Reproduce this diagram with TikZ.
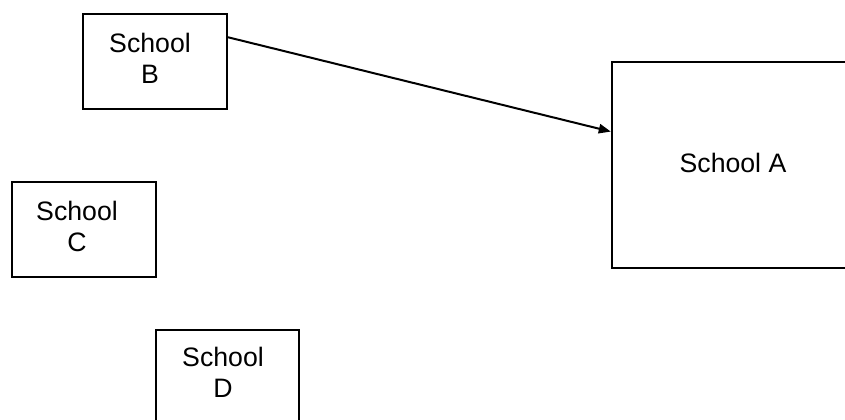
\documentclass[tikz,border=0pt]{standalone}
\usepackage{fontspec}
\setmainfont{Liberation Sans}
\usetikzlibrary{arrows.meta,calc}
\begin{document}
\begin{tikzpicture}[x=0.75pt,y=-0.75pt,
  box/.style={draw=black,line width=1.5pt,rectangle,inner sep=0pt},
  lbl/.style={align=center,font=\fontsize{20pt}{23.25pt}\selectfont,inner sep=0pt,anchor=base},
  conn/.style={line width=1.5pt,-{Triangle[length=9pt,width=7pt]}}]
\useasboundingbox (0,0) rectangle (845,419);
\clip (0,0) rectangle (845,419);
\node[box,minimum width=108pt,minimum height=71.25pt] (B) at (155,61.5) {};
\node[box,minimum width=107.5pt,minimum height=71.5pt] (C) at (84,229.4) {};
\node[box,minimum width=107.5pt,minimum height=86.25pt] (D) at (227.3,387.5) {};
\node[box,minimum width=193.7pt,minimum height=154.7pt] (A) at (740.9,164.9) {};
\node[lbl] (tB) at (150,83) {School\\B};
\node[lbl] (tC) at (77,251.7) {School\\C};
\node[lbl] (tD) at (223,397.7) {School\\D};
\node[lbl] (tA) at (733,172.7) {School A};
\coordinate (s) at ($(B.north east)!0.25!(B.south east)$);
\coordinate (e) at ($(A.north west)!0.34!(A.south west)$);
\draw[conn] (s) -- (e);
\end{tikzpicture}
\end{document}
